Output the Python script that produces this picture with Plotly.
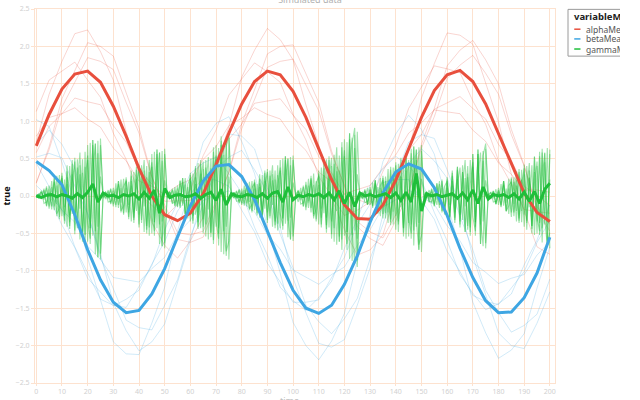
import plotly.graph_objects as go

# ---------------- data ----------------
x5 = list(range(0, 201, 5))
x2 = list(range(0, 201, 2))
x1 = list(range(0, 201, 1))

alpha_mean = [0.67, 1.09, 1.43, 1.63, 1.67, 1.52, 1.20, 0.80, 0.37, 0.00, -0.25, -0.33, -0.23, 0.03,
              0.42, 0.84, 1.23, 1.53, 1.67, 1.62, 1.40, 1.05, 0.63, 0.22, -0.12, -0.30, -0.31, -0.12,
              0.21, 0.63, 1.05, 1.41, 1.62, 1.68, 1.53, 1.23, 0.84, 0.43, 0.04, -0.22, -0.34]
beta_mean = [0.46, 0.34, 0.15, -0.25, -0.72, -1.12, -1.42, -1.56, -1.53, -1.31, -0.97, -0.55, -0.13,
             0.20, 0.40, 0.42, 0.26, -0.05, -0.46, -0.89, -1.26, -1.50, -1.57, -1.46, -1.18, -0.80,
             -0.35, 0.04, 0.32, 0.43, 0.36, 0.11, -0.26, -0.70, -1.09, -1.40, -1.56, -1.55, -1.36,
             -1.03, -0.55]
gamma_mean = [0.00, -0.02, 0.01, 0.02, -0.01, 0.02, 0.00, -0.03, 0.03, -0.02, 0.05, 0.16, -0.08, 0.04,
              0.00, 0.01, -0.02, 0.02, 0.00, 0.03, -0.04, 0.05, -0.03, 0.08, -0.23, 0.10, -0.02, 0.01,
              0.02, -0.01, 0.00, 0.03, -0.03, 0.02, 0.05, -0.06, 0.09, -0.12, 0.03, 0.00, -0.01, 0.02,
              0.01, -0.02, 0.03, -0.03, 0.04, 0.06, -0.08, 0.12, -0.05, 0.01, -0.01, 0.02, 0.00, 0.03,
              -0.02, 0.04, -0.05, 0.07, -0.10, 0.05, -0.14, 0.04, 0.00, 0.02, -0.01, 0.01, 0.03, -0.02,
              0.04, -0.06, 0.05, -0.08, 0.30, -0.20, 0.03, 0.00, 0.02, -0.01, 0.01, 0.03, -0.03, 0.04,
              -0.05, 0.08, -0.10, 0.12, -0.04, 0.02, 0.00, 0.02, -0.02, 0.03, -0.04, 0.05, -0.07, 0.06,
              -0.10, 0.09, 0.17]

alpha_runs = [
    [0.72, 1.36, 1.80, 2.17, 2.22, 1.93, 1.55, 0.86, 0.29, -0.35, -0.66, -0.83, -0.60, -0.28, 0.36,
     0.93, 1.59, 1.95, 2.24, 2.09, 1.82, 1.22, 0.68, -0.03, -0.45, -0.79, -0.72, -0.52, 0.06, 0.60,
     1.31, 1.77, 2.18, 2.15, 2.03, 1.50, 0.99, 0.29, -0.20, -0.68, -0.78],
    [0.18, 0.62, 1.19, 1.52, 1.85, 1.80, 1.69, 1.25, 0.84, 0.25, -0.11, -0.49, -0.52, -0.47, -0.07,
     0.31, 0.90, 1.29, 1.72, 1.80, 1.83, 1.48, 1.14, 0.56, 0.15, -0.34, -0.48, -0.56, -0.26, 0.06,
     0.64, 1.06, 1.57, 1.75, 1.88, 1.64, 1.36, 0.82, 0.40, -0.14, -0.38],
    [0.58, 0.93, 1.10, 1.31, 1.26, 1.22, 0.94, 0.72, 0.35, 0.16, -0.07, -0.06, -0.06, 0.20, 0.39,
     0.76, 0.96, 1.24, 1.27, 1.30, 1.08, 0.89, 0.53, 0.31, 0.02, -0.05, -0.11, 0.09, 0.25, 0.61,
     0.82, 1.16, 1.24, 1.33, 1.17, 1.03, 0.69, 0.47, 0.13, 0.01, -0.13],
    [1.13, 1.55, 1.67, 1.79, 1.55, 1.32, 0.84, 0.49, 0.04, -0.13, -0.29, -0.11, 0.08, 0.54, 0.88,
     1.35, 1.57, 1.78, 1.66, 1.52, 1.09, 0.75, 0.26, 0.00, -0.26, -0.19, -0.08, 0.33, 0.67, 1.17,
     1.45, 1.74, 1.70, 1.65, 1.27, 0.96, 0.47, 0.16, -0.18, -0.21, -0.23],
    [0.17, 0.66, 1.30, 1.68, 2.05, 2.00, 1.87, 1.38, 0.91, 0.26, -0.16, -0.58, -0.62, -0.55, -0.12,
     0.32, 0.97, 1.42, 1.90, 2.00, 2.02, 1.64, 1.25, 0.60, 0.13, -0.41, -0.57, -0.66, -0.33, 0.04,
     0.69, 1.17, 1.74, 1.95, 2.08, 1.82, 1.50, 0.89, 0.41, -0.19, -0.47],
    [0.80, 1.05, 1.10, 1.18, 1.03, 0.92, 0.64, 0.47, 0.20, 0.13, 0.02, 0.14, 0.22, 0.49, 0.66,
     0.94, 1.04, 1.18, 1.09, 1.03, 0.78, 0.61, 0.32, 0.19, 0.03, 0.09, 0.14, 0.38, 0.55, 0.84,
     0.98, 1.15, 1.12, 1.10, 0.88, 0.73, 0.44, 0.29, 0.08, 0.08, 0.05],
]

beta_runs = [
    [1.02, 0.93, 0.45, -0.08, -0.83, -1.40, -1.95, -2.11, -2.12, -1.70, -1.22, -0.47, 0.11, 0.72,
     0.97, 1.06, 0.73, 0.30, -0.42, -1.03, -1.69, -2.00, -2.19, -1.94, -1.57, -0.87, -0.24, 0.46,
     0.83, 1.08, 0.89, 0.56, -0.10, -0.71, -1.42, -1.83, -2.17, -2.06, -1.84, -1.23, -0.68],
    [0.52, 0.57, 0.51, 0.14, -0.24, -0.82, -1.23, -1.66, -1.76, -1.79, -1.46, -1.12, -0.54, -0.12,
     0.36, 0.52, 0.61, 0.35, 0.05, -0.51, -0.96, -1.46, -1.68, -1.84, -1.64, -1.37, -0.84, -0.38,
     0.16, 0.43, 0.63, 0.47, 0.24, -0.27, -0.72, -1.26, -1.56, -1.82, -1.73, -1.58, -1.11],
    [0.02, 0.03, -0.19, -0.35, -0.67, -0.85, -1.09, -1.12, -1.15, -0.97, -0.82, -0.51, -0.32, -0.06,
     0.00, 0.07, -0.08, -0.21, -0.52, -0.71, -0.99, -1.08, -1.18, -1.05, -0.95, -0.66, -0.45, -0.15,
     -0.05, 0.08, -0.02, -0.11, -0.40, -0.60, -0.89, -1.02, -1.17, -1.10, -1.05, -0.79, -0.61],
    [0.44, 0.12, -0.19, -0.68, -1.02, -1.38, -1.46, -1.49, -1.21, -0.93, -0.45, -0.09, 0.30, 0.44,
     0.52, 0.30, 0.04, -0.42, -0.79, -1.22, -1.40, -1.53, -1.36, -1.14, -0.70, -0.31, 0.14, 0.36,
     0.53, 0.40, 0.21, -0.22, -0.60, -1.05, -1.30, -1.52, -1.44, -1.31, -0.92, -0.59, -0.12],
    [0.69, 0.88, 0.69, 0.37, -0.23, -0.78, -1.43, -1.80, -2.07, -1.95, -1.71, -1.14, -0.60, 0.06,
     0.49, 0.83, 0.80, 0.63, 0.12, -0.42, -1.10, -1.56, -1.97, -2.02, -1.92, -1.46, -0.96, -0.25,
     0.26, 0.72, 0.82, 0.77, 0.35, -0.13, -0.81, -1.32, -1.83, -2.00, -2.04, -1.70, -1.28],
    [0.14, -0.02, -0.39, -0.69, -1.10, -1.29, -1.47, -1.38, -1.26, -0.91, -0.61, -0.20, 0.03, 0.25,
     0.21, 0.13, -0.19, -0.48, -0.90, -1.15, -1.42, -1.42, -1.39, -1.09, -0.82, -0.38, -0.11, 0.18,
     0.22, 0.22, -0.06, -0.31, -0.74, -1.01, -1.33, -1.41, -1.45, -1.23, -1.01, -0.62, -0.33],
]

gamma_runs = [
    [0.00,
     0.03, -0.04, 0.08, -0.14, 0.09, -0.18, 0.24, -0.11, 0.28, -0.27, 0.22, -0.41, 0.40, -0.24, 0.51, -0.43, 0.41, -0.61, 0.39, -0.61, 0.71, -0.53, 0.70, -0.82, 0.68,
     0.03, -0.04, 0.06, -0.11, 0.07, -0.15, 0.20, -0.09, 0.23, -0.22, 0.19, -0.34, 0.32, -0.20, 0.42, -0.36, 0.34, -0.50, 0.32, -0.50, 0.59, -0.43, 0.58, -0.67, 0.56,
     -0.02, 0.06, -0.10, 0.07, -0.15, 0.20, -0.10, 0.24, -0.25, 0.20, -0.37, 0.37, -0.22, 0.48, -0.41, 0.38, -0.58, 0.37, -0.59, 0.68, -0.50, 0.68, -0.78, 0.66, 0.85,
     0.02, -0.03, 0.06, -0.10, 0.06, -0.13, 0.17, -0.08, 0.20, -0.19, 0.16, -0.29, 0.28, -0.17, 0.36, -0.30, 0.29, -0.43, 0.28, -0.43, 0.50, -0.37, 0.50, -0.58, 0.48,
     0.03, -0.08, 0.06, -0.14, 0.19, -0.09, 0.24, -0.24, 0.20, -0.38, 0.38, -0.23, 0.49, -0.42, 0.40, -0.61, 0.39, -0.61, 0.72, -0.53, 0.72, -0.84, 0.70, 0.91, -0.57,
     0.03, -0.04, 0.07, -0.12, 0.08, -0.16, 0.21, -0.10, 0.24, -0.24, 0.20, -0.36, 0.35, -0.21, 0.45, -0.38, 0.36, -0.54, 0.34, -0.54, 0.63, -0.46, 0.62, -0.72, 0.60,
     -0.02, 0.05, -0.08, 0.06, -0.13, 0.17, -0.08, 0.20, -0.20, 0.17, -0.31, 0.31, -0.18, 0.39, -0.34, 0.32, -0.48, 0.30, -0.48, 0.56, -0.41, 0.56, -0.64, 0.54, 0.70,
     0.03, -0.04, 0.06, -0.11, 0.07, -0.15, 0.20, -0.09, 0.23, -0.22, 0.19, -0.34, 0.32, -0.20, 0.42, -0.36, 0.34, -0.50, 0.32, -0.50, 0.59, -0.43, 0.58, -0.67, 0.56],
    [0.00,
     -0.02, 0.07, -0.05, 0.11, -0.17, 0.12, -0.19, 0.27, -0.28, 0.14, -0.37, 0.33, -0.26, 0.48, -0.46, 0.38, -0.58, 0.31, -0.52, 0.68, -0.43, 0.68, -0.78, 0.57, -0.77,
     -0.02, 0.06, -0.04, 0.09, -0.14, 0.10, -0.16, 0.22, -0.23, 0.11, -0.31, 0.27, -0.22, 0.39, -0.38, 0.32, -0.48, 0.25, -0.42, 0.56, -0.35, 0.56, -0.64, 0.47, -0.63,
     0.03, -0.04, 0.08, -0.14, 0.10, -0.16, 0.24, -0.24, 0.12, -0.34, 0.30, -0.25, 0.44, -0.43, 0.36, -0.54, 0.29, -0.49, 0.65, -0.41, 0.64, -0.75, 0.55, -0.74, -0.60,
     -0.01, 0.05, -0.04, 0.08, -0.12, 0.08, -0.14, 0.19, -0.20, 0.10, -0.26, 0.23, -0.19, 0.34, -0.32, 0.27, -0.41, 0.22, -0.37, 0.48, -0.30, 0.48, -0.55, 0.41, -0.54,
     -0.03, 0.08, -0.06, 0.12, -0.19, 0.14, -0.22, 0.30, -0.31, 0.15, -0.42, 0.37, -0.29, 0.53, -0.51, 0.43, -0.65, 0.34, -0.58, 0.76, -0.48, 0.76, -0.87, 0.64, -0.86,
     0.03, -0.03, 0.07, -0.12, 0.09, -0.14, 0.21, -0.22, 0.11, -0.30, 0.26, -0.22, 0.39, -0.38, 0.32, -0.48, 0.26, -0.43, 0.57, -0.36, 0.57, -0.66, 0.48, -0.65, -0.53,
     -0.02, 0.06, -0.04, 0.09, -0.14, 0.10, -0.16, 0.22, -0.23, 0.11, -0.31, 0.27, -0.22, 0.39, -0.38, 0.32, -0.48, 0.25, -0.42, 0.56, -0.35, 0.56, -0.64, 0.47, -0.63,
     0.03, -0.03, 0.06, -0.11, 0.08, -0.14, 0.20, -0.20, 0.10, -0.28, 0.25, -0.20, 0.36, -0.35, 0.29, -0.45, 0.24, -0.40, 0.53, -0.34, 0.53, -0.62, 0.45, -0.60, -0.49],
    [0.00,
     0.02, 0.06, -0.10, -0.08, 0.14, -0.06, 0.24, -0.24, -0.16, 0.31, -0.26, 0.16, -0.44, 0.43, -0.31, 0.16, 0.58, -0.49, 0.59, -0.34, -0.57, 0.75, -0.47, 0.74, -0.85,
     0.02, 0.05, -0.08, -0.07, 0.11, -0.05, 0.20, -0.20, -0.13, 0.25, -0.22, 0.14, -0.36, 0.35, -0.25, 0.14, 0.48, -0.40, 0.48, -0.28, -0.47, 0.62, -0.38, 0.60, -0.70,
     0.02, 0.06, -0.10, -0.08, 0.14, -0.06, 0.24, -0.24, -0.16, 0.31, -0.26, 0.16, -0.44, 0.43, -0.31, 0.16, 0.52, -0.49, 0.59, -0.34, -0.57, 0.80, -0.47, 0.74, -0.85,
     0.01, 0.05, -0.07, -0.06, 0.10, -0.04, 0.17, -0.17, -0.11, 0.22, -0.18, 0.12, -0.31, 0.31, -0.22, 0.11, 0.41, -0.34, 0.41, -0.24, -0.40, 0.53, -0.33, 0.52, -0.60,
     0.02, 0.07, -0.11, -0.09, 0.15, -0.07, 0.27, -0.27, -0.17, 0.34, -0.29, 0.18, -0.49, 0.48, -0.34, 0.18, 0.65, -0.54, 0.65, -0.38, -0.64, 0.84, -0.52, 0.82, -0.95,
     0.02, 0.05, -0.09, -0.07, 0.12, -0.05, 0.21, -0.22, -0.14, 0.27, -0.23, 0.14, -0.39, 0.38, -0.27, 0.14, 0.51, -0.43, 0.51, -0.30, -0.50, 0.66, -0.41, 0.65, -0.75,
     0.02, 0.05, -0.08, -0.07, 0.11, -0.05, 0.20, -0.20, -0.13, 0.25, -0.22, 0.14, -0.36, 0.35, -0.25, 0.14, 0.48, -0.40, 0.48, -0.28, -0.47, 0.62, -0.38, 0.60, -0.70,
     0.02, 0.05, -0.08, -0.07, 0.11, -0.05, 0.20, -0.20, -0.13, 0.25, -0.22, 0.14, -0.36, 0.35, -0.25, 0.14, 0.44, -0.40, 0.52, -0.28, -0.47, 0.58, -0.38, 0.64, -0.70],
    [0.00,
     -0.03, 0.05, -0.03, 0.13, -0.14, 0.20, -0.14, 0.14, -0.31, 0.27, -0.15, 0.41, -0.40, 0.29, -0.51, 0.49, -0.17, 0.49, -0.65, 0.48, -0.64, 0.75, -0.39, -0.82, 0.77,
     -0.03, 0.04, -0.02, 0.10, -0.11, 0.17, -0.12, 0.11, -0.25, 0.22, -0.12, 0.34, -0.32, 0.23, -0.42, 0.41, -0.14, 0.40, -0.53, 0.39, -0.53, 0.62, -0.32, -0.67, 0.63,
     -0.03, 0.05, -0.04, 0.12, -0.14, 0.21, -0.13, 0.15, -0.30, 0.28, -0.16, 0.40, -0.41, 0.30, -0.50, 0.48, -0.18, 0.50, -0.64, 0.49, -0.66, 0.74, -0.40, -0.80, 0.78,
     -0.02, 0.04, -0.02, 0.09, -0.10, 0.14, -0.10, 0.10, -0.22, 0.19, -0.10, 0.29, -0.28, 0.20, -0.36, 0.34, -0.12, 0.34, -0.46, 0.34, -0.45, 0.53, -0.28, -0.58, 0.54,
     -0.04, 0.06, -0.03, 0.14, -0.15, 0.23, -0.16, 0.15, -0.34, 0.30, -0.17, 0.46, -0.44, 0.32, -0.57, 0.55, -0.20, 0.54, -0.72, 0.53, -0.72, 0.84, -0.44, -0.91, 0.86,
     -0.03, 0.04, -0.03, 0.11, -0.12, 0.18, -0.13, 0.12, -0.27, 0.24, -0.13, 0.36, -0.35, 0.25, -0.45, 0.43, -0.15, 0.43, -0.57, 0.42, -0.57, 0.66, -0.35, -0.72, 0.68,
     -0.03, 0.04, -0.02, 0.10, -0.11, 0.17, -0.12, 0.11, -0.25, 0.22, -0.12, 0.34, -0.32, 0.23, -0.42, 0.41, -0.14, 0.40, -0.53, 0.39, -0.53, 0.62, -0.32, -0.67, 0.63,
     -0.02, 0.05, -0.03, 0.09, -0.12, 0.16, -0.13, 0.10, -0.24, 0.23, -0.11, 0.33, -0.33, 0.22, -0.41, 0.40, -0.15, 0.41, -0.52, 0.40, -0.52, 0.63, -0.31, -0.66, 0.62],
    [0.00,
     0.02, -0.03, 0.10, -0.13, 0.05, -0.14, 0.19, -0.27, 0.16, 0.24, -0.33, 0.25, -0.35, 0.19, 0.46, -0.38, 0.29, -0.55, 0.20, 0.54, -0.43, 0.30, 0.70, -0.41, 0.26,
     0.02, -0.02, 0.08, -0.10, 0.04, -0.12, 0.16, -0.22, 0.13, 0.20, -0.28, 0.20, -0.29, 0.16, 0.38, -0.32, 0.24, -0.45, 0.16, 0.45, -0.35, 0.25, 0.58, -0.34, 0.21,
     0.02, -0.03, 0.10, -0.13, 0.05, -0.14, 0.19, -0.27, 0.16, 0.24, -0.33, 0.25, -0.35, 0.19, 0.46, -0.38, 0.29, -0.55, 0.20, 0.54, -0.43, 0.30, 0.70, -0.41, 0.26,
     0.01, -0.02, 0.07, -0.09, 0.04, -0.10, 0.14, -0.19, 0.11, 0.17, -0.23, 0.17, -0.25, 0.14, 0.32, -0.27, 0.21, -0.39, 0.14, 0.38, -0.30, 0.21, 0.50, -0.29, 0.18,
     0.02, -0.03, 0.11, -0.14, 0.06, -0.16, 0.22, -0.30, 0.17, 0.27, -0.38, 0.28, -0.39, 0.21, 0.51, -0.43, 0.33, -0.61, 0.22, 0.61, -0.48, 0.34, 0.78, -0.46, 0.29,
     0.02, -0.02, 0.09, -0.11, 0.05, -0.13, 0.17, -0.24, 0.14, 0.21, -0.30, 0.22, -0.31, 0.17, 0.41, -0.34, 0.26, -0.49, 0.17, 0.48, -0.38, 0.26, 0.62, -0.36, 0.23,
     0.02, -0.02, 0.08, -0.10, 0.04, -0.12, 0.16, -0.22, 0.13, 0.20, -0.28, 0.20, -0.29, 0.16, 0.38, -0.32, 0.24, -0.45, 0.16, 0.45, -0.35, 0.25, 0.58, -0.34, 0.21,
     0.02, -0.02, 0.07, -0.11, 0.05, -0.12, 0.15, -0.21, 0.14, 0.19, -0.27, 0.21, -0.30, 0.17, 0.37, -0.33, 0.25, -0.44, 0.17, 0.46, -0.36, 0.24, 0.57, -0.35, 0.22],
]

series_names = ["alphaMean", "betaMean", "gammaMean"]
legend_title = "variableMean"
chart_title = "Simulated data"
x_title = "time"
y_title = "true"
x_ticks = list(range(0, 201, 10))
y_ticks = [-2.5, -2.0, -1.5, -1.0, -0.5, 0.0, 0.5, 1.0, 1.5, 2.0, 2.5]

# ---------------- styles ----------------
RED = "#e84f3d"
BLUE = "#3ea6e3"
GREEN = "#1fbf3a"
GRID = "#fde2cf"
COLORS = [RED, BLUE, GREEN]

fig = go.Figure()

for run in alpha_runs:
    fig.add_trace(go.Scatter(x=x5, y=run, mode="lines", line=dict(color="rgba(232,79,61,0.24)", width=1),
                             showlegend=False, hoverinfo="skip"))
for run in beta_runs:
    fig.add_trace(go.Scatter(x=x5, y=run, mode="lines", line=dict(color="rgba(62,166,227,0.24)", width=1),
                             showlegend=False, hoverinfo="skip"))
for run in gamma_runs:
    fig.add_trace(go.Scatter(x=x1, y=run, mode="lines", line=dict(color="rgba(31,191,58,0.42)", width=1.1),
                             showlegend=False, hoverinfo="skip"))

fig.add_trace(go.Scatter(x=x5, y=alpha_mean, mode="lines", name=series_names[0],
                         line=dict(color=RED, width=3), showlegend=False))
fig.add_trace(go.Scatter(x=x5, y=beta_mean, mode="lines", name=series_names[1],
                         line=dict(color=BLUE, width=3), showlegend=False))
fig.add_trace(go.Scatter(x=x2, y=gamma_mean, mode="lines", name=series_names[2],
                         line=dict(color=GREEN, width=3), showlegend=False))

# ---- legend box (drawn by hand so it can be clipped like the reference) ----
shapes = [dict(type="rect", xref="paper", yref="paper", x0=1.025, x1=1.2, y0=0.874, y1=0.999,
               line=dict(color="#9a9a9a", width=1), fillcolor="white", layer="above")]
annotations = [dict(xref="paper", yref="paper", x=1.032, y=0.979, xanchor="left", yanchor="middle",
                    text="<b>" + legend_title + "</b>", showarrow=False,
                    font=dict(size=9.5, color="#222"))]
entry_y = [0.946, 0.920, 0.893]
for name, col, ey in zip(series_names, COLORS, entry_y):
    shapes.append(dict(type="line", xref="paper", yref="paper", x0=1.037, x1=1.049, y0=ey, y1=ey,
                       line=dict(color=col, width=1.5), layer="above"))
    annotations.append(dict(xref="paper", yref="paper", x=1.055, y=ey, xanchor="left", yanchor="middle",
                            text=name, showarrow=False, font=dict(size=8.5, color="#555")))

# x-axis title placed just under the tick labels (partly cut by the page edge, as in the reference)
annotations.append(dict(xref="paper", yref="paper", x=0.49, y=-0.046, xanchor="center", yanchor="middle",
                        text=x_title, showarrow=False, font=dict(size=9, color="#c0c0c0")))

fig.update_layout(
    width=620, height=400,
    margin=dict(l=35, r=65, t=9, b=17, autoexpand=False),
    paper_bgcolor="white", plot_bgcolor="white",
    font=dict(family="Noto Sans, DejaVu Sans, sans-serif", size=9, color="#444"),
    title=dict(text=chart_title, x=0.5, xanchor="center", y=1.0, yanchor="middle",
               font=dict(size=9, color="#b0b0b0")),
    showlegend=False,
    shapes=shapes,
    annotations=annotations,
    xaxis=dict(range=[-0.5, 202], tickvals=x_ticks, showgrid=True, gridcolor=GRID, gridwidth=1,
               zeroline=False, showline=True, linecolor=GRID, mirror=True,
               tickfont=dict(size=7, color="#d0d0d0"), ticks="outside", tickcolor=GRID, ticklen=2),
    yaxis=dict(range=[-2.5, 2.5], tickvals=y_ticks, tickformat=".1f", showgrid=True, gridcolor=GRID,
               gridwidth=1, zeroline=False, showline=True, linecolor=GRID, mirror=True,
               tickfont=dict(size=7, color="#d0d0d0"), ticks="outside", tickcolor=GRID, ticklen=3,
               title=dict(text="<b>" + y_title + "</b>", font=dict(size=9, color="#111"), standoff=6)),
)

fig.write_html("out.html", config={"displayModeBar": False},
               post_script="document.body.style.margin='0';")
